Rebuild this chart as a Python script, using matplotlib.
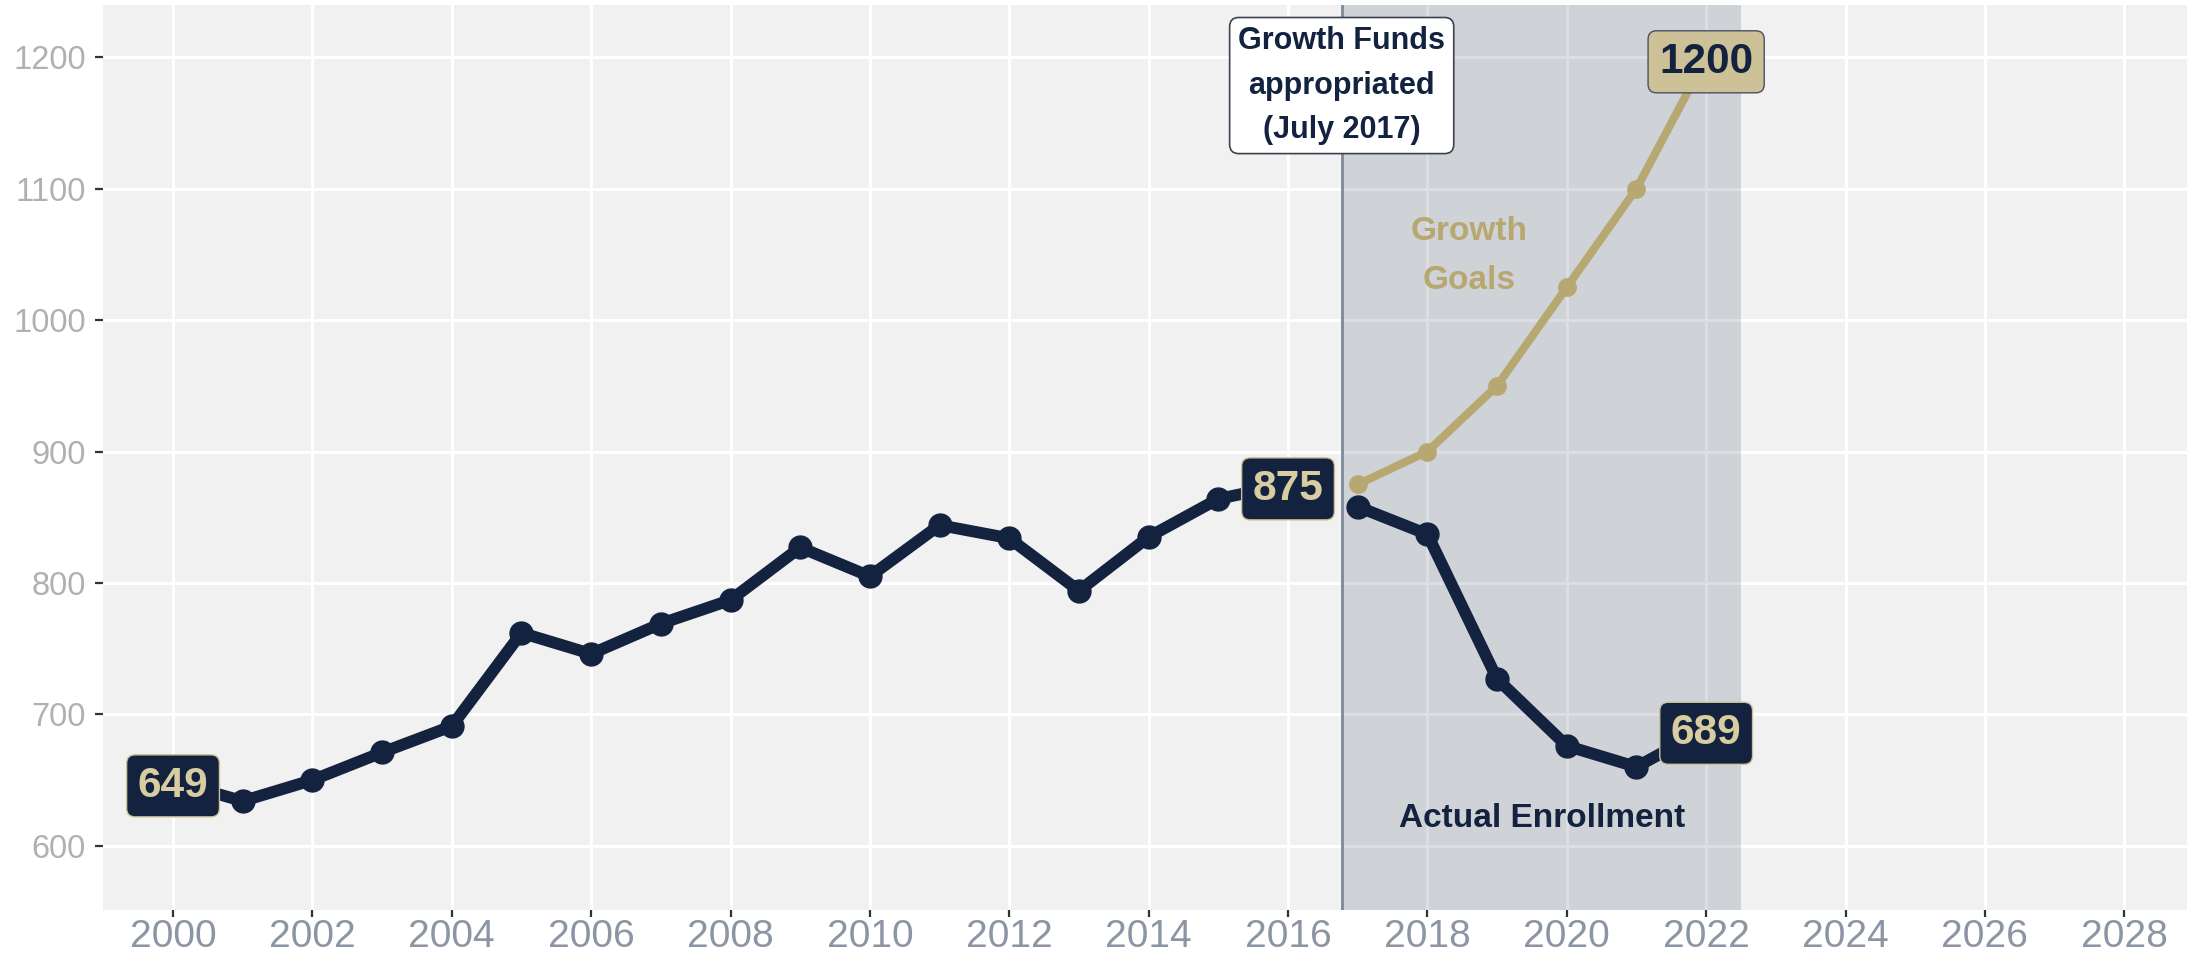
#!/usr/bin/env python3

# Libraries
import numpy as np
from matplotlib import pyplot as plt
from matplotlib.ticker import MultipleLocator

# Data
ActualYears1 = [2000, 2001, 2002, 2003, 2004, 2005, 2006, 2007, 2008,
                2009, 2010, 2011, 2012, 2013, 2014, 2015, 2016]
ActualValues1 = [649, 634, 650, 671, 691, 762, 746, 769, 787,
                 827, 805, 844, 834, 794, 835, 864, 875]
ActualYears2 = [2017, 2018, 2019, 2020, 2021, 2022]
ActualValues2 = [858, 837, 727, 676, 660, 689]
GoalYears = [2017, 2018, 2019, 2020, 2021, 2022]
GoalValues = [875, 900, 950, 1025, 1100, 1200]
FundsDate = 2016.77
ShadeEnd = 2022.5

# Colors
Navy = '#13223f'
Gold = '#b7a770'
LightGold = '#d8cda0'
BoxGold = '#cdc197'
PanelBg = '#f1f1f1'

plt.rcParams['font.family'] = ['Liberation Sans', 'DejaVu Sans']


def main():
    fig = plt.figure(figsize=(21.99, 9.63), dpi=100)
    ax = fig.add_axes([103 / 2199, 53 / 963, 2084 / 2199, 905 / 963])
    ax.set_facecolor(PanelBg)
    for s in ax.spines.values():
        s.set_visible(False)

    ax.set_xlim(1998.995, 2028.9)
    ax.set_ylim(551.1, 1239.8)
    ax.xaxis.set_major_locator(MultipleLocator(2))
    ax.yaxis.set_major_locator(MultipleLocator(100))
    ax.grid(True, color='white', linewidth=2.2, zorder=0)
    ax.set_axisbelow(True)

    ax.tick_params(axis='x', colors='#333333', labelcolor='#8c95a4', labelsize=28,
                   length=5, width=1.6, pad=1.5)
    ax.tick_params(axis='y', colors='#333333', labelcolor='#b0b0b0', labelsize=23.5,
                   length=5.5, width=1.6, pad=7)

    # Shaded growth period and funding line
    ax.axvspan(FundsDate, ShadeEnd, color=Navy, alpha=0.15, lw=0, zorder=1)
    ax.axvline(FundsDate, color='#7f8897', linewidth=2, zorder=2)

    # Lines
    ax.plot(GoalYears, GoalValues, color=Gold, linewidth=5.8, marker='o',
            markersize=12.5, solid_capstyle='round', zorder=3)
    ax.plot(ActualYears1, ActualValues1, color=Navy, linewidth=8.5, marker='o',
            markersize=16.5, solid_joinstyle='round', solid_capstyle='round', zorder=4)
    ax.plot(ActualYears2, ActualValues2, color=Navy, linewidth=8.5, marker='o',
            markersize=16.5, solid_joinstyle='round', solid_capstyle='round', zorder=4)

    # Value labels
    NavyBox = dict(boxstyle='round,pad=0.26,rounding_size=0.2', fc=Navy, ec=BoxGold, lw=1)
    for x, y in [(ActualYears1[0], ActualValues1[0]), (ActualYears1[-1], ActualValues1[-1]),
                 (ActualYears2[-1], ActualValues2[-1])]:
        ax.text(x, y, str(y), color=LightGold, fontsize=30.5, fontweight='bold',
                ha='center', va='center_baseline', bbox=NavyBox, zorder=6)
    ax.text(GoalYears[-1], GoalValues[-1], str(GoalValues[-1]), color=Navy, fontsize=30.5,
            fontweight='bold', ha='center', va='center_baseline', zorder=6,
            bbox=dict(boxstyle='round,pad=0.26,rounding_size=0.2', fc=BoxGold, ec='#4a5060', lw=1))

    # Annotations
    ax.text(FundsDate, 1178.5, 'Growth Funds\nappropriated\n(July 2017)', color=Navy,
            fontsize=22, fontweight='bold', ha='center', va='center', linespacing=1.63,
            zorder=6, bbox=dict(boxstyle='round,pad=0.28,rounding_size=0.3', fc='white',
                                ec='#3c4250', lw=1.2))
    ax.text(2018.6, 1048.5, 'Growth\nGoals', color=Gold, fontsize=24, fontweight='bold',
            ha='center', va='center', linespacing=1.75, zorder=5)
    ax.text(2019.65, 614.5, 'Actual Enrollment', color=Navy, fontsize=24,
            fontweight='bold', ha='center', va='baseline', zorder=5)

    fig.savefig('out.png', dpi=100, facecolor='white')


if __name__ == '__main__':
    main()
